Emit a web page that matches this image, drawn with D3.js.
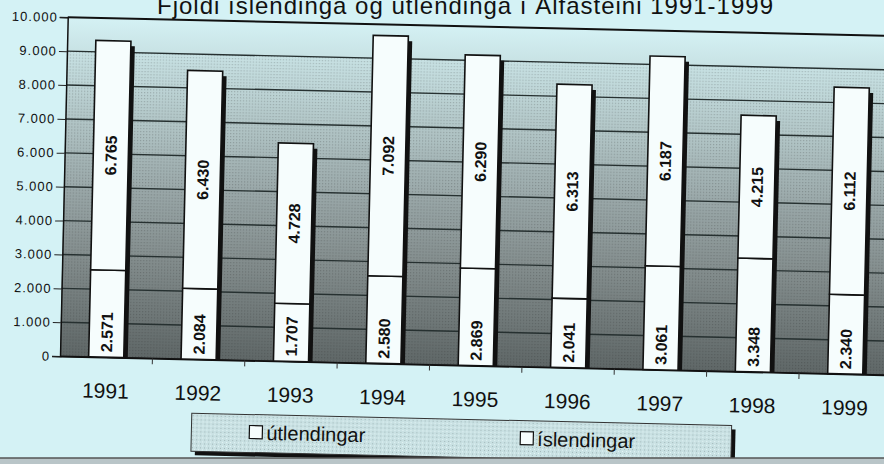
<!DOCTYPE html>
<html>
<head>
<meta charset="utf-8">
<script src="https://cdn.jsdelivr.net/npm/d3@7"></script>
<style>
  body { margin: 0; background: #d4f2f5; }
  svg { display: block; font-family: Arial, "Liberation Sans", sans-serif; }
</style>
</head>
<body>
<svg></svg>
<script>
let width = 884
let height = 464

let years = ['1991', '1992', '1993', '1994', '1995', '1996', '1997', '1998', '1999']
let utlendingar = [2571, 2084, 1707, 2580, 2869, 2041, 3061, 3348, 2340]
let islendingar = [6765, 6430, 4728, 7092, 6290, 6313, 6187, 4215, 6112]
let seriesNames = ['útlendingar', 'íslendingar']
let yTicks = [0, 1000, 2000, 3000, 4000, 5000, 6000, 7000, 8000, 9000, 10000]
let title = 'Fjöldi íslendinga og útlendinga í Álfasteini 1991-1999'

let rows = years.map((yr, i) => ({ year: yr, 'útlendingar': utlendingar[i], 'íslendingar': islendingar[i] }))
let stacked = d3.stack().keys(seriesNames)(rows)

let fmt = d3.formatLocale({ decimal: ',', thousands: '.', grouping: [3], currency: ['', ''] }).format(',d')

let plotLeft = 63, plotTop = 26, plotBottom = 365
let step = 92.4
let plotRight = plotLeft + step * years.length

let x = d3.scaleBand()
          .domain(years)
          .range([plotLeft, plotRight])
          .paddingInner(0.62)
          .paddingOuter(0.31)

let y = d3.scaleLinear()
          .domain([0, 10000])
          .range([plotBottom, plotTop])

let svg = d3.select('svg')
    .attr('width', width)
    .attr('height', height)

let defs = svg.append('defs')

let grad = defs.append('linearGradient')
    .attr('id', 'plotbg')
    .attr('x1', 0).attr('y1', 0).attr('x2', 0).attr('y2', 1)
let stops = [[0, '#d4f1f4'], [0.1, '#c8e2e4'], [0.3, '#b2c6c7'], [0.5, '#9aa8a9'], [0.7, '#848e8e'], [1, '#5f6767']]
grad.selectAll('stop')
  .data(stops)
  .enter()
  .append('stop')
    .attr('offset', d => d[0])
    .attr('stop-color', d => d[1])

let dots = defs.append('pattern')
    .attr('id', 'dots')
    .attr('width', 3).attr('height', 3)
    .attr('patternUnits', 'userSpaceOnUse')
dots.append('rect')
    .attr('width', 1.2).attr('height', 1.2)
    .attr('fill', '#222')
    .attr('opacity', 0.22)

let speckle = defs.append('pattern')
    .attr('id', 'speckle')
    .attr('width', 4).attr('height', 4)
    .attr('patternUnits', 'userSpaceOnUse')
speckle.append('rect').attr('width', 4).attr('height', 4).attr('fill', '#c9e1e3')
speckle.append('rect').attr('x', 1).attr('y', 1).attr('width', 1).attr('height', 1).attr('fill', '#9fb4b6')
speckle.append('rect').attr('x', 3).attr('y', 3).attr('width', 1).attr('height', 1).attr('fill', '#e6f6f7')

// title sits cut off at the top edge, like the scan
svg.append('text')
    .attr('x', 465)
    .attr('y', 14)
    .attr('text-anchor', 'middle')
    .attr('font-size', 24)
    .attr('textLength', 616)
    .attr('lengthAdjust', 'spacing')
    .attr('fill', '#111')
    .text(title)

// whole chart is scanned a bit crooked
let g = svg.append('g')
    .attr('transform', 'rotate(1.3, 450, 230)')

g.append('rect')
    .attr('x', plotLeft).attr('y', y(10000))
    .attr('width', plotRight - plotLeft).attr('height', plotBottom - y(10000))
    .attr('fill', 'url(#plotbg)')

g.append('rect')
    .attr('x', plotLeft).attr('y', y(9000))
    .attr('width', plotRight - plotLeft).attr('height', plotBottom - y(9000))
    .attr('fill', 'url(#dots)')

g.selectAll('.grid')
  .data(yTicks)
  .enter()
  .append('line')
    .classed('grid', true)
    .attr('x1', plotLeft).attr('x2', plotRight)
    .attr('y1', d => y(d)).attr('y2', d => y(d))
    .attr('stroke', d => d === 10000 || d === 0 ? '#111' : '#263030')
    .attr('stroke-width', d => d === 10000 ? 2 : 1.4)

let yAxis = g.append('g')
    .attr('transform', `translate(${plotLeft}, 0)`)
    .call(d3.axisLeft(y).tickValues(yTicks).tickFormat(fmt).tickSize(8).tickPadding(2))
yAxis.select('.domain').attr('stroke', '#111').attr('stroke-width', 1.5)
yAxis.selectAll('.tick line').attr('stroke', '#222')
yAxis.selectAll('text')
    .attr('font-size', 13)
    .attr('letter-spacing', 1)
    .attr('fill', '#111')

let xAxis = g.append('g')
    .attr('transform', `translate(0, ${plotBottom})`)
    .call(d3.axisBottom(x).tickSize(0).tickPadding(26))
xAxis.select('.domain').attr('stroke', '#111').attr('stroke-width', 1.5)
xAxis.selectAll('text')
    .attr('font-size', 21)
    .attr('fill', '#111')

g.selectAll('.xtick')
  .data(years.slice(1))
  .enter()
  .append('line')
    .classed('xtick', true)
    .attr('x1', d => x(d) - x.step() * 0.31)
    .attr('x2', d => x(d) - x.step() * 0.31)
    .attr('y1', plotBottom).attr('y2', plotBottom + 6)
    .attr('stroke', '#333')

// bar shadows
g.selectAll('.shadow')
  .data(stacked[1])
  .enter()
  .append('rect')
    .classed('shadow', true)
    .attr('x', d => x(d.data.year) + 4)
    .attr('y', d => y(d[1]) + 5)
    .attr('width', x.bandwidth())
    .attr('height', d => plotBottom - y(d[1]) - 5)
    .attr('fill', '#111')

let layers = g.selectAll('.layer')
  .data(stacked)
  .enter()
  .append('g')
    .classed('layer', true)

layers.selectAll('rect')
  .data(d => d)
  .enter()
  .append('rect')
    .attr('x', d => x(d.data.year))
    .attr('y', d => y(d[1]))
    .attr('width', x.bandwidth())
    .attr('height', d => y(d[0]) - y(d[1]))
    .attr('fill', '#f6fdfd')
    .attr('stroke', '#111')
    .attr('stroke-width', 1.6)

// labels: bottom series sits at the base, top series centred
layers.selectAll('text')
  .data((d, i) => d.map(v => ({ v: v, upper: i === 1 })))
  .enter()
  .append('text')
    .attr('transform', d => {
      let cx = x(d.v.data.year) + x.bandwidth() / 2
      let cy = d.upper ? (y(d.v[0]) + y(d.v[1])) / 2 : y(d.v[0]) - 5
      return `translate(${cx}, ${cy}) rotate(-90)`
    })
    .attr('text-anchor', d => d.upper ? 'middle' : 'start')
    .attr('dy', '0.36em')
    .attr('font-size', 16)
    .attr('font-weight', 'bold')
    .attr('fill', '#111')
    .text(d => fmt(d.v[1] - d.v[0]))

// legend
let legend = g.append('g')
legend.append('rect')
    .attr('x', 200).attr('y', 423)
    .attr('width', 540).attr('height', 38)
    .attr('fill', '#111')
legend.append('rect')
    .attr('x', 196).attr('y', 419)
    .attr('width', 540).attr('height', 38)
    .attr('fill', 'url(#speckle)')
    .attr('stroke', '#333')
    .attr('stroke-width', 1)

let legendX = [254, 525]
let items = legend.selectAll('.item')
  .data(seriesNames)
  .enter()
  .append('g')
    .classed('item', true)
    .attr('transform', (d, i) => `translate(${legendX[i]}, 0)`)
items.append('rect')
    .attr('x', 0).attr('y', 430)
    .attr('width', 13).attr('height', 13)
    .attr('fill', '#f6fdfd')
    .attr('stroke', '#111')
    .attr('stroke-width', 1.2)
items.append('text')
    .attr('x', 17).attr('y', 444)
    .attr('font-size', 20)
    .attr('fill', '#111')
    .text(d => d)

// scanner edge at the bottom
svg.append('rect')
    .attr('x', 0).attr('y', 458)
    .attr('width', width).attr('height', 6)
    .attr('fill', '#b9c5c8')
svg.append('line')
    .attr('x1', 0).attr('x2', width)
    .attr('y1', 458).attr('y2', 458)
    .attr('stroke', '#555')
    .attr('stroke-width', 1.5)
</script>
</body>
</html>
